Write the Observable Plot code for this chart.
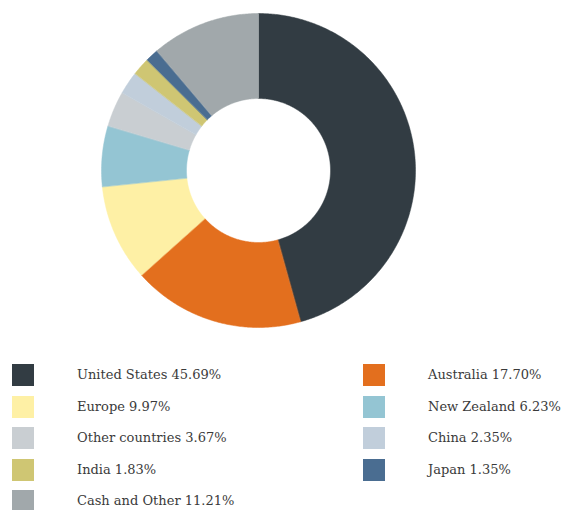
<!DOCTYPE html>
<html>
<head>
<meta charset="utf-8">
<script src="https://cdn.jsdelivr.net/npm/d3@7"></script>
<script src="https://cdn.jsdelivr.net/npm/@observablehq/plot@0.6"></script>
<style>
  html, body { margin: 0; padding: 0; background: #fff; }
  #wrap { position: relative; width: 563px; height: 510px; }
  #chart svg { display: block; }
  .item { position: absolute; height: 22px; font-family: "DejaVu Serif", serif; font-size: 13px; color: #3a3a3a; }
  .sw { position: absolute; left: 0; top: 0; width: 22px; height: 22px; }
  .lab { position: absolute; top: 2px; white-space: nowrap; line-height: 18px; }
</style>
</head>
<body>
<div id="wrap">
  <div id="chart"></div>
  <div id="legend"></div>
</div>
<script>
const categories = ["United States", "Australia", "Europe", "New Zealand", "Other countries", "China", "India", "Japan", "Cash and Other"];
const values = [45.69, 17.70, 9.97, 6.23, 3.67, 2.35, 1.83, 1.35, 11.21];
const colors = ["#323c43", "#e36f1e", "#fef0a5", "#94c5d3", "#c9ced2", "#c1cedb", "#cfc673", "#4a6d91", "#a1a8ab"];
const labels = values.map(v => v.toFixed(2) + "%");

const innerRatio = 72 / 157;
const arcs = d3.pie().sort(null).value(d => d.value)(categories.map((c, i) => ({category: c, value: values[i]})));

// build polygon outline for each slice (outer arc, then inner arc reversed)
const pts = [];
arcs.forEach(a => {
  const n = Math.max(4, Math.ceil((a.endAngle - a.startAngle) / 0.01));
  const ring = [];
  for (let k = 0; k <= n; k++) {
    const t = a.startAngle + (a.endAngle - a.startAngle) * k / n;
    ring.push({category: a.data.category, x: Math.sin(t), y: Math.cos(t)});
  }
  for (let k = n; k >= 0; k--) {
    const t = a.startAngle + (a.endAngle - a.startAngle) * k / n;
    ring.push({category: a.data.category, x: innerRatio * Math.sin(t), y: innerRatio * Math.cos(t)});
  }
  pts.push(...ring);
});

const chart = Plot.plot({
  width: 563,
  height: 345,
  marginLeft: 101,
  marginRight: 148,
  marginTop: 13,
  marginBottom: 18,
  x: {domain: [-1, 1], axis: null},
  y: {domain: [-1, 1], axis: null},
  color: {domain: categories, range: colors},
  marks: [
    Plot.line(pts, {x: "x", y: "y", z: "category", fill: "category", stroke: "category", strokeWidth: 0.5, curve: "linear-closed"})
  ]
});
document.getElementById("chart").appendChild(chart);

const legend = document.getElementById("legend");
categories.forEach((c, i) => {
  const col = i % 2, row = Math.floor(i / 2);
  const item = document.createElement("div");
  item.className = "item";
  item.style.left = (col === 0 ? 12 : 363) + "px";
  item.style.top = (364 + row * 31.6) + "px";
  const sw = document.createElement("div");
  sw.className = "sw";
  sw.style.background = colors[i];
  const lab = document.createElement("div");
  lab.className = "lab";
  lab.style.left = "65px";
  lab.textContent = c + " " + labels[i];
  item.appendChild(sw);
  item.appendChild(lab);
  legend.appendChild(item);
});
</script>
</body>
</html>
